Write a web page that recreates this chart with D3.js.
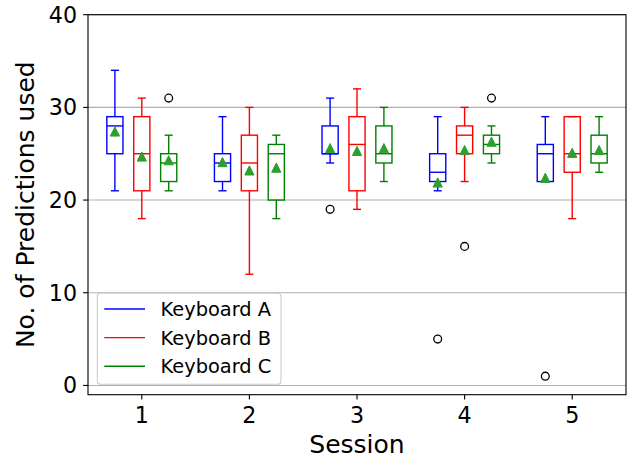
<html><head>
<script src="https://d3js.org/d3.v7.min.js"></script>
<style>
  body { margin: 0; background: #fff; }
  text { font-family: "DejaVu Sans", sans-serif; fill: #000; }
</style>
</head>
<body>
<script>
// rows = Keyboard A, B, C ; columns = sessions 1..5
var sessions = ["1", "2", "3", "4", "5"];
var tickPos = [2, 6, 10, 14, 18];
var keyboards = ["Keyboard A", "Keyboard B", "Keyboard C"];
var colors = ["blue", "red", "green"];

var whiskLo = [[21, 21, 24, 21, 22], [18, 12, 19, 22, 18], [21, 18, 22, 24, 23]];
var q1      = [[25, 22, 25, 22, 22], [21, 21, 21, 25, 23], [22, 20, 24, 25, 24]];
var median  = [[28, 24, 25, 23, 25], [25, 24, 26, 27, 25], [24, 25, 25, 26, 25]];
var q3      = [[29, 25, 28, 25, 26], [29, 27, 29, 28, 29], [25, 26, 28, 27, 27]];
var whiskHi = [[34, 29, 31, 29, 29], [31, 30, 32, 30, 29], [27, 27, 30, 28, 29]];
var means   = [[27.4, 24.1, 25.6, 21.9, 22.4], [24.7, 23.2, 25.3, 25.4, 25.1], [24.3, 23.5, 25.6, 26.3, 25.4]];
var outliers = [[[], [], [19], [5], [1]], [[], [], [], [15], []], [[31], [], [], [31], []]];

var yTicks = [0, 10, 20, 30, 40];

var W = 628, H = 458;
var mL = 88, mR = 626, mT = 14.7, mB = 394.7;
var boxW = 0.6;

var x = d3.scaleLinear().domain([0, 20]).range([mL, mR]);
var y = d3.scaleLinear().domain([-1, 40]).range([mB, mT]);

var svg = d3.select("body").append("svg")
  .attr("width", W).attr("height", H);

// grid
svg.append("g").selectAll("line").data(yTicks).enter().append("line")
  .attr("x1", mL).attr("x2", mR)
  .attr("y1", function(d) { return y(d); })
  .attr("y2", function(d) { return y(d); })
  .attr("stroke", "#b0b0b0").attr("stroke-width", 1.1);

// build boxes
var boxes = [];
keyboards.forEach(function(k, ki) {
  sessions.forEach(function(s, si) {
    boxes.push({
      pos: 4 * si + ki + 1, color: colors[ki],
      lo: whiskLo[ki][si], q1: q1[ki][si], med: median[ki][si],
      q3: q3[ki][si], hi: whiskHi[ki][si], mean: means[ki][si],
      out: outliers[ki][si]
    });
  });
});

var lw = 1.4;
var g = svg.append("g");
boxes.forEach(function(b) {
  var cx = x(b.pos), hw = x(b.pos + boxW / 2) - cx, cw = hw / 2;
  var bg = g.append("g").attr("stroke", b.color).attr("stroke-width", lw).attr("fill", "none");
  bg.append("rect")
    .attr("x", cx - hw).attr("width", 2 * hw)
    .attr("y", y(b.q3)).attr("height", y(b.q1) - y(b.q3));
  bg.append("line").attr("x1", cx - hw).attr("x2", cx + hw)
    .attr("y1", y(b.med)).attr("y2", y(b.med));
  bg.append("line").attr("x1", cx).attr("x2", cx)
    .attr("y1", y(b.q3)).attr("y2", y(b.hi));
  bg.append("line").attr("x1", cx).attr("x2", cx)
    .attr("y1", y(b.q1)).attr("y2", y(b.lo));
  bg.append("line").attr("x1", cx - cw).attr("x2", cx + cw)
    .attr("y1", y(b.hi)).attr("y2", y(b.hi));
  bg.append("line").attr("x1", cx - cw).attr("x2", cx + cw)
    .attr("y1", y(b.lo)).attr("y2", y(b.lo));

  b.out.forEach(function(o) {
    g.append("circle").attr("cx", cx).attr("cy", y(o)).attr("r", 3.9)
      .attr("fill", "none").attr("stroke", "#000").attr("stroke-width", 1.3);
  });

  var my = y(b.mean), t = 4.6;
  g.append("path")
    .attr("d", "M" + cx + "," + (my - t) + "L" + (cx + t) + "," + (my + t) + "L" + (cx - t) + "," + (my + t) + "Z")
    .attr("fill", "#2ca02c").attr("stroke", "#2ca02c").attr("stroke-width", 1);
});

// spines
svg.append("rect").attr("x", mL).attr("y", mT)
  .attr("width", mR - mL).attr("height", mB - mT)
  .attr("fill", "none").attr("stroke", "#000").attr("stroke-width", 1.1);

// y axis
var ya = svg.append("g");
yTicks.forEach(function(t) {
  ya.append("line").attr("x1", mL - 4.9).attr("x2", mL)
    .attr("y1", y(t)).attr("y2", y(t)).attr("stroke", "#000").attr("stroke-width", 1.1);
  ya.append("text").attr("x", mL - 11).attr("y", y(t) + 8)
    .attr("text-anchor", "end").style("font-size", "22.2px").text(t);
});

// x axis
var xa = svg.append("g");
sessions.forEach(function(s, i) {
  var px = x(tickPos[i]);
  xa.append("line").attr("x1", px).attr("x2", px)
    .attr("y1", mB).attr("y2", mB + 4.9).attr("stroke", "#000").attr("stroke-width", 1.1);
  xa.append("text").attr("x", px).attr("y", 422.5)
    .attr("text-anchor", "middle").style("font-size", "22.2px").text(s);
});

svg.append("text").attr("x", (mL + mR) / 2).attr("y", 453)
  .attr("text-anchor", "middle").style("font-size", "25px").text("Session");

svg.append("text")
  .attr("transform", "translate(34," + ((mT + mB) / 2) + ") rotate(-90)")
  .attr("text-anchor", "middle").style("font-size", "25px").text("No. of Predictions used");

// legend
var lg = svg.append("g");
lg.append("rect").attr("x", 97.3).attr("y", 293.3).attr("width", 183.7).attr("height", 91)
  .attr("rx", 3).attr("fill", "#fff").attr("fill-opacity", 0.8)
  .attr("stroke", "#cccccc").attr("stroke-width", 1.1);
keyboards.forEach(function(k, i) {
  var ly = 309 + i * 28.6;
  lg.append("line").attr("x1", 104.3).attr("x2", 145).attr("y1", ly).attr("y2", ly)
    .attr("stroke", colors[i]).attr("stroke-width", 1.4);
  lg.append("text").attr("x", 160.5).attr("y", ly + 7)
    .style("font-size", "19.4px").text(k);
});
</script>
</body></html>
